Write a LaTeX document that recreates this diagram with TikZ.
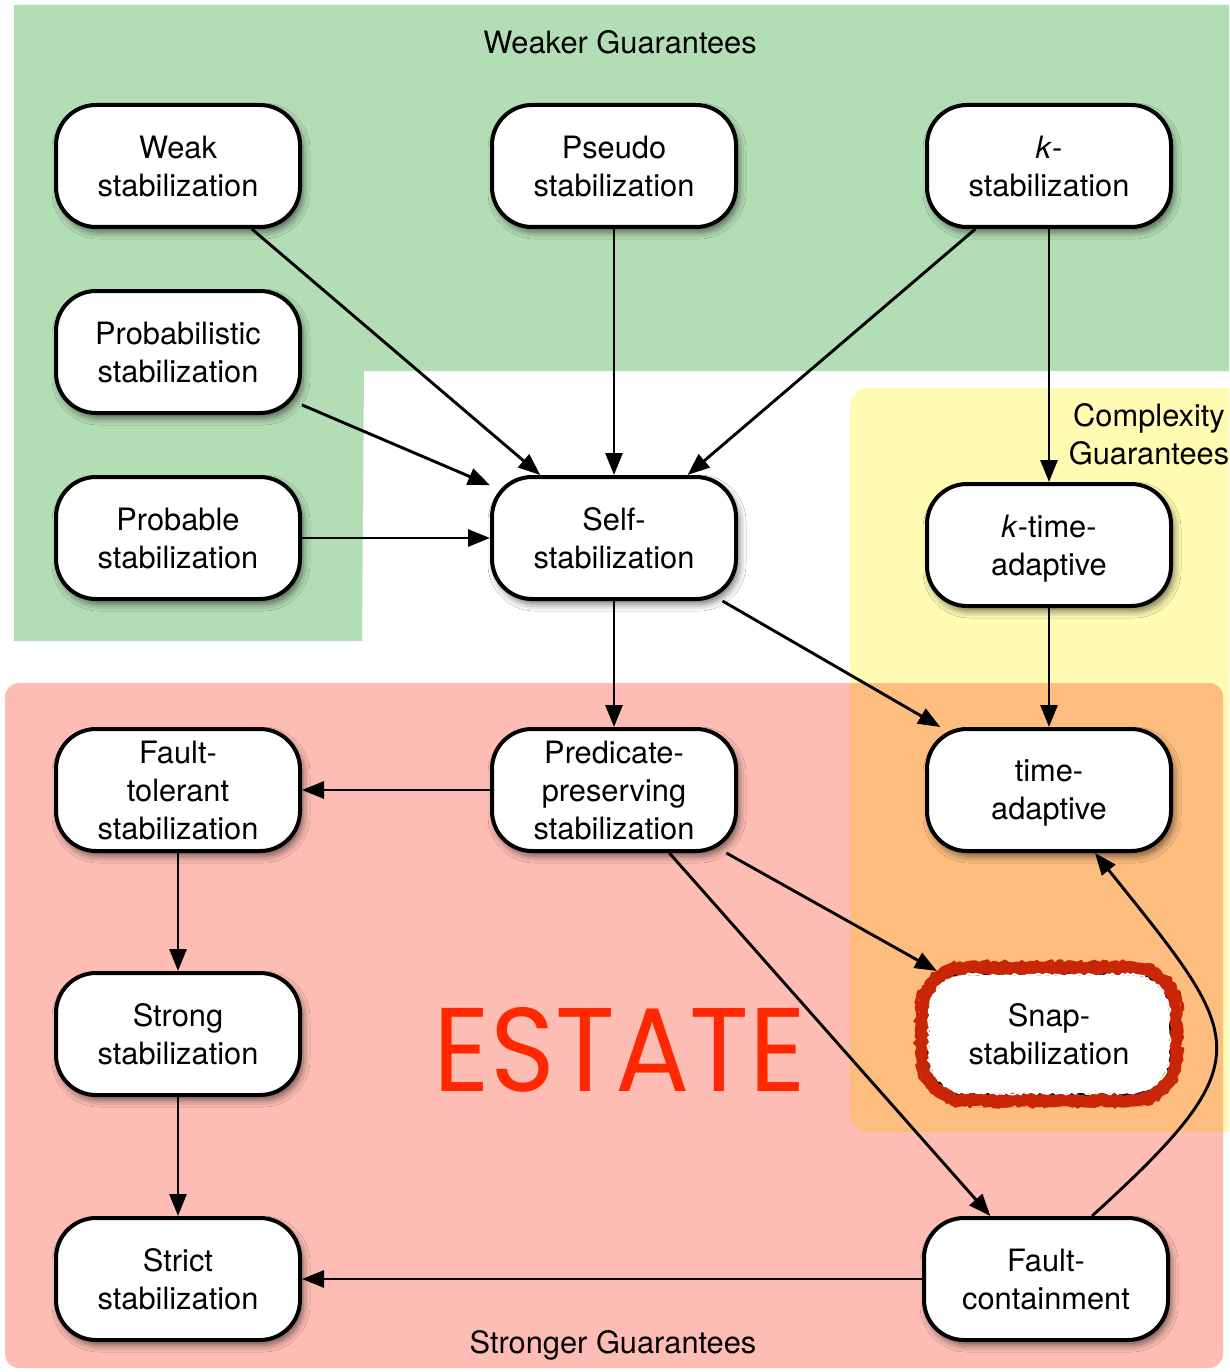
\documentclass[tikz,border=0pt]{standalone}
\usepackage{fontspec}
\setmainfont{TeX Gyre Heros}
\newfontfamily\estatefont{Poppins}
\usepackage{graphicx}
\usetikzlibrary{arrows.meta,shadows.blur,decorations.pathmorphing,calc}

\definecolor{greenarea}{RGB}{179,221,181}
\definecolor{yellowarea}{RGB}{255,251,178}
\definecolor{redarea}{RGB}{253,189,180}
\definecolor{orangearea}{RGB}{253,189,126}
\definecolor{snapred}{RGB}{200,38,6}
\definecolor{estatered}{RGB}{255,40,0}

\newcommand\boxfont{\fontsize{30.8pt}{38pt}\selectfont}

\begin{document}
\begin{tikzpicture}[x=1pt,y=-1pt,
  stab/.style={draw, line width=4pt, fill=white, rounded corners=40pt,
    minimum width=244pt, minimum height=122pt, inner sep=0pt, align=center,
    font=\boxfont, text depth=-2pt,
    blur shadow={shadow xshift=3pt, shadow yshift=-5pt, shadow blur radius=7pt, shadow opacity=55}},
  arr/.style={line width=2.9pt, -{Triangle[length=22pt,width=17pt]}},
  areatitle/.style={font=\boxfont, inner sep=0pt, align=center}
]
\clip (0,0) rectangle (1229,1372);
\fill[white] (0,0) rectangle (1229,1372);

% guarantee areas
\fill[greenarea] (14,5) -- (1240,5) -- (1240,371) -- (364,371) -- (362,641) -- (14,641) -- cycle;
\fill[yellowarea, rounded corners=18pt] (850,388) rectangle (1260,1132);
\fill[redarea, rounded corners=14pt] (5,683) rectangle (1223,1368);
\begin{scope}
  \clip[rounded corners=14pt] (5,683) rectangle (1223,1368);
  \fill[orangearea, rounded corners=18pt] (850,388) rectangle (1260,1132);
\end{scope}

% area titles
\node[areatitle] (weaker) at (620,42) {Weaker Guarantees};
\node[areatitle, anchor=base] (stronger) at (613,1353) {Stronger Guarantees};
\node[areatitle] (complexity) at (1149,434) {Complexity\\Guarantees};
\node[text=estatered, inner sep=0pt] (estate) at (620,1050)
  {\resizebox{372pt}{84pt}{\estatefont ESTATE}};

% stabilization variants
\node[stab] (weak)     at (178,166)  {Weak\\stabilization};
\node[stab] (pseudo)   at (614,166)  {Pseudo\\stabilization};
\node[stab] (kstab)    at (1049,166) {\textit{k}-\\stabilization};
\node[stab] (proba)    at (178,352)  {Probabilistic\\stabilization};
\node[stab] (probable) at (178,538)  {Probable\\stabilization};
\node[stab] (self)     at (614,538)  {Self-\\stabilization};
\node[stab] (ktime)    at (1049,545) {\textit{k}-time-\\adaptive};
\node[stab] (ftol)     at (178,790)  {Fault-\\tolerant\\stabilization};
\node[stab] (pred)     at (614,790)  {Predicate-\\preserving\\stabilization};
\node[stab] (tadapt)   at (1049,790) {time-\\adaptive};
\node[stab] (strong)   at (178,1034) {Strong\\stabilization};
\node[stab] (snap)     at (1049,1034) {Snap-\\stabilization};
\node[stab] (strict)   at (178,1279) {Strict\\stabilization};
\node[stab] (fcont)    at (1046,1279) {Fault-\\containment};

% rough highlight around snap-stabilization
\pgfmathsetseed{7}
\draw[snapred, line width=12pt, line join=round]
  decorate[decoration={random steps, segment length=4pt, amplitude=1.8pt}]
  { {[rounded corners=44pt] ([shift={(-127,-66)}]snap.center) rectangle ([shift={(127,66)}]snap.center)} };
\draw[snapred, line width=3pt, line join=round]
  decorate[decoration={random steps, segment length=3pt, amplitude=2.4pt}]
  { {[rounded corners=48pt] ([shift={(-132,-71)}]snap.center) rectangle ([shift={(132,71)}]snap.center)} };
\draw[white, line width=1.8pt, line join=round]
  decorate[decoration={random steps, segment length=3pt, amplitude=1.6pt}]
  { {[rounded corners=38pt] ([shift={(-120,-59)}]snap.center) rectangle ([shift={(120,59)}]snap.center)} };

% implications
\draw[arr] (weak) -- (self);
\draw[arr] (pseudo) -- (self);
\draw[arr] (kstab) -- (self);
\draw[arr] (proba) -- (self);
\draw[arr] (probable) -- (self);
\draw[arr] (kstab) -- (ktime);
\draw[arr] (self) -- (pred);
\draw[arr] (self) -- (tadapt);
\draw[arr] (ktime) -- (tadapt);
\draw[arr] (pred) -- (ftol);
\draw[arr] (pred) -- (snap);
\draw[arr] (pred) -- (fcont);
\draw[arr] (ftol) -- (strong);
\draw[arr] (strong) -- (strict);
\draw[arr] (fcont) -- (strict);
\draw[arr] ([xshift=46pt]fcont.north) .. controls (1267,1057) and (1244,1039) .. ([xshift=46pt]tadapt.south);
\end{tikzpicture}
\end{document}
